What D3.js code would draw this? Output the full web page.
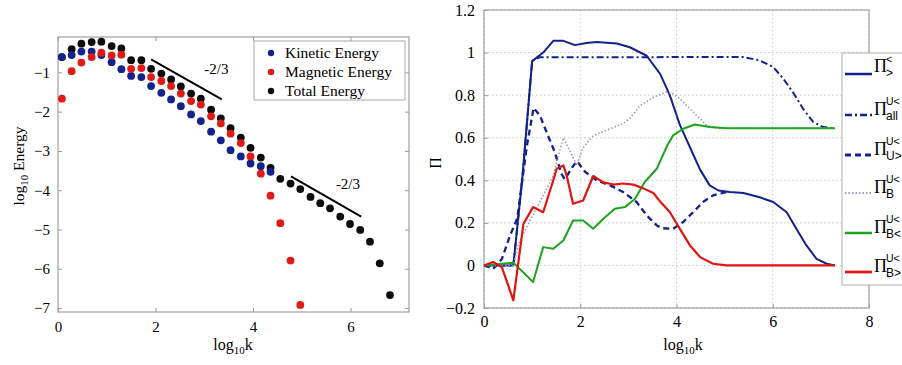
<!DOCTYPE html>
<html>
<head>
<meta charset="utf-8">
<script src="https://cdn.jsdelivr.net/npm/d3@7"></script>
<style>
body { margin: 0; background: #fff; }
svg text { font-family: "Liberation Serif", "Times New Roman", serif; fill: #000; }
.ax path { display: none; }
.ax line { stroke: #999; }
</style>
</head>
<body>
<svg id="chart" width="902" height="365"></svg>
<script>
// ---- left panel : energy spectra vs log10 k ----
const kx = [0.08, 0.28, 0.48, 0.69, 0.89, 1.10, 1.30, 1.50, 1.71, 1.91, 2.12, 2.32, 2.52, 2.73, 2.93, 3.14, 3.34,
	3.54, 3.75, 3.95, 4.16, 4.36, 4.56, 4.77, 4.97, 5.18, 5.38, 5.58, 5.79, 5.99, 6.20, 6.40, 6.60, 6.81]
const totalE = [-0.61, -0.41, -0.27, -0.23, -0.22, -0.33, -0.39, -0.69, -0.69, -0.91, -1.03, -1.18, -1.36, -1.54, -1.67, -1.95, -2.17,
	-2.42, -2.66, -2.92, -3.17, -3.43, -3.71, -3.83, -3.97, -4.17, -4.33, -4.46, -4.67, -4.86, -5.01, -5.31, -5.86, -6.67]
const kineticE = [-0.61, -0.56, -0.47, -0.47, -0.56, -0.74, -0.92, -1.09, -1.12, -1.35, -1.52, -1.69, -1.86, -2.07, -2.24, -2.51, -2.73,
	-2.98, -3.14, -3.32, -3.39, -3.53]
const magneticE = [-1.67, -0.97, -0.75, -0.61, -0.50, -0.57, -0.55, -0.91, -0.89, -1.12, -1.22, -1.35, -1.54, -1.73, -1.82, -2.12, -2.30,
	-2.56, -2.80, -3.14, -3.58, -4.14, -4.84, -5.79, -6.92]
const slopes = [
	{ from: [1.91, -0.67], to: [3.36, -1.69], label: "-2/3", at: [3.0, -1.05] },
	{ from: [4.78, -3.65], to: [6.22, -4.67], label: "-2/3", at: [5.7, -3.97] }
]
const leftXTicks = [0, 2, 4, 6]
const leftYTicks = [-7, -6, -5, -4, -3, -2, -1]
const energySeries = [
	{ name: "Kinetic Energy", color: "#13228c", values: kineticE },
	{ name: "Magnetic Energy", color: "#e11a16", values: magneticE },
	{ name: "Total Energy", color: "#0d0d0d", values: totalE }
]

// ---- right panel : flux ratios ----
const piLt = [[0, 0], [0.61, 0], [0.8, 0.42], [1.0, 0.96], [1.23, 1.0], [1.44, 1.055], [1.65, 1.055], [1.89, 1.035], [2.13, 1.045],
	[2.34, 1.05], [2.76, 1.043], [3.03, 1.025], [3.38, 0.985], [3.66, 0.90], [3.86, 0.80], [4.07, 0.66], [4.35, 0.52], [4.49, 0.45],
	[4.69, 0.376], [4.87, 0.352], [5.11, 0.345], [5.39, 0.34], [5.73, 0.32], [6.01, 0.298], [6.29, 0.25], [6.49, 0.172],
	[6.70, 0.094], [6.91, 0.031], [7.12, 0.008], [7.29, 0]]
const piAll = [[0, 0], [0.61, 0], [0.8, 0.42], [1.0, 0.96], [1.15, 0.978], [5.39, 0.979], [5.73, 0.963], [6.01, 0.932], [6.22, 0.877],
	[6.42, 0.814], [6.63, 0.736], [6.84, 0.674], [7.05, 0.65], [7.29, 0.645]]
const piU = [[0, 0], [0.19, -0.016], [0.37, 0.03], [0.54, 0.14], [0.69, 0.22], [0.89, 0.56], [1.03, 0.74], [1.16, 0.705],
	[1.30, 0.626], [1.47, 0.533], [1.61, 0.43], [1.68, 0.405], [1.83, 0.46], [1.93, 0.49], [2.1, 0.44], [2.34, 0.40],
	[2.62, 0.376], [2.89, 0.345], [3.17, 0.298], [3.38, 0.235], [3.59, 0.188], [3.70, 0.175], [3.93, 0.172], [4.14, 0.204],
	[4.35, 0.251], [4.55, 0.298], [4.76, 0.329], [5.04, 0.345]]
const piB = [[0, 0], [0.61, 0], [0.72, 0.10], [0.85, 0.164], [1.05, 0.25], [1.30, 0.36], [1.44, 0.42], [1.55, 0.52], [1.65, 0.60],
	[1.80, 0.53], [1.93, 0.47], [2.05, 0.55], [2.27, 0.61], [2.62, 0.642], [2.89, 0.666], [3.03, 0.69], [3.24, 0.75],
	[3.52, 0.79], [3.79, 0.814], [3.9, 0.81], [4.07, 0.783], [4.35, 0.72], [4.63, 0.657], [4.84, 0.645], [7.29, 0.645]]
const piBlt = [[0, 0], [0.61, 0.013], [1.02, -0.078], [1.23, 0.086], [1.44, 0.078], [1.65, 0.117], [1.85, 0.211], [2.06, 0.211],
	[2.27, 0.172], [2.48, 0.219], [2.72, 0.266], [2.93, 0.274], [3.14, 0.313], [3.34, 0.392], [3.59, 0.454], [3.80, 0.56],
	[3.93, 0.611], [4.14, 0.642], [4.38, 0.662], [4.69, 0.65], [5.04, 0.645], [7.29, 0.645]]
const piBgt = [[0, 0], [0.19, 0.016], [0.37, -0.008], [0.61, -0.164], [0.82, 0.196], [1.02, 0.274], [1.23, 0.25], [1.44, 0.40],
	[1.51, 0.454], [1.65, 0.47], [1.72, 0.42], [1.85, 0.29], [2.06, 0.305], [2.27, 0.42], [2.48, 0.39], [2.69, 0.38],
	[2.89, 0.385], [3.10, 0.38], [3.31, 0.362], [3.52, 0.34], [3.66, 0.30], [3.86, 0.251], [4.07, 0.172], [4.28, 0.094],
	[4.49, 0.039], [4.76, 0.008], [5.04, 0], [7.29, 0]]
const rightXTicks = [0, 2, 4, 6, 8]
const rightYTicks = [-0.2, 0, 0.2, 0.4, 0.6, 0.8, 1, 1.2]
const piSeries = [
	{ values: piLt, color: "#12228c", dash: null, width: 2, sup: "<", sub: ">" },
	{ values: piAll, color: "#12228c", dash: "7,3,2,3", width: 2, sup: "U<", sub: "all" },
	{ values: piU, color: "#12228c", dash: "6,4", width: 2.3, sup: "U<", sub: "U>" },
	{ values: piB, color: "#9a9ac4", dash: "1.5,2", width: 1.6, sup: "U<", sub: "B" },
	{ values: piBlt, color: "#1ea31e", dash: null, width: 2, sup: "U<", sub: "B<" },
	{ values: piBgt, color: "#e2140f", dash: null, width: 2.2, sup: "U<", sub: "B>" }
]

const SERIF = "'Liberation Serif', 'Times New Roman', serif"
const SANS = "'Liberation Sans', Arial, sans-serif"
const fmt = d3.format("~g")
const svg = d3.select("#chart")

function serifTicks(g, size) {
	g.selectAll(".ax text").style("font-family", SERIF).style("font-size", size + "px").style("fill", "#000")
}

// ================= left panel =================
let L = { x: 58, y: 37, w: 351, h: 275 }
let lx = d3.scaleLinear().domain([0, 7.2]).range([0, L.w])
let ly = d3.scaleLinear().domain([-7.1, -0.1]).range([L.h, 0])
let gl = svg.append("g").attr("transform", `translate(${L.x},${L.y})`)

gl.append("g").attr("class", "ax").attr("transform", `translate(0,${L.h})`)
	.call(d3.axisBottom(lx).tickValues(leftXTicks).tickSizeInner(-4).tickSizeOuter(0).tickPadding(9).tickFormat(fmt))
gl.append("g").attr("class", "ax")
	.call(d3.axisTop(lx).tickValues(leftXTicks).tickSizeInner(-4).tickSizeOuter(0).tickFormat(""))
gl.append("g").attr("class", "ax")
	.call(d3.axisLeft(ly).tickValues(leftYTicks).tickSizeInner(-4).tickSizeOuter(0).tickPadding(8).tickFormat(fmt))
gl.append("g").attr("class", "ax").attr("transform", `translate(${L.w},0)`)
	.call(d3.axisRight(ly).tickValues(leftYTicks).tickSizeInner(-4).tickSizeOuter(0).tickFormat(""))
serifTicks(gl, 15)
gl.append("rect").attr("width", L.w).attr("height", L.h)
	.attr("fill", "none").attr("stroke", "#a0a0a0").attr("stroke-width", 1.2)

// dots: total first, then kinetic, then magnetic on top
;[energySeries[2], energySeries[0], energySeries[1]].forEach(s => {
	gl.append("g").selectAll("circle").data(s.values).enter().append("circle")
		.attr("cx", (d, i) => lx(kx[i]))
		.attr("cy", d => ly(d))
		.attr("r", 3.9)
		.attr("fill", s.color)
})

slopes.forEach(s => {
	gl.append("line")
		.attr("x1", lx(s.from[0])).attr("y1", ly(s.from[1]))
		.attr("x2", lx(s.to[0])).attr("y2", ly(s.to[1]))
		.attr("stroke", "#000").attr("stroke-width", 2)
	gl.append("text").attr("x", lx(s.at[0])).attr("y", ly(s.at[1]))
		.attr("font-size", 15).text(s.label)
})

// legend
let lg = gl.append("g").attr("transform", `translate(${254 - L.x},${41 - L.y})`)
lg.append("rect").attr("width", 151).attr("height", 59)
	.attr("fill", "#fff").attr("stroke", "#aaa")
energySeries.forEach((s, i) => {
	lg.append("circle").attr("cx", 17).attr("cy", 12 + i * 19).attr("r", 3.2).attr("fill", s.color)
	lg.append("text").attr("x", 31).attr("y", 17 + i * 19).attr("font-size", 15.5).text(s.name)
})

// axis titles
let lxl = svg.append("text").attr("x", 233).attr("y", 350).attr("text-anchor", "middle").attr("font-size", 16)
lxl.append("tspan").text("log")
lxl.append("tspan").attr("font-size", 11).attr("dy", 4).text("10")
lxl.append("tspan").attr("dy", -4).text("k")

let lyl = svg.append("text").attr("transform", "translate(24,166) rotate(-90)")
	.attr("text-anchor", "middle").attr("font-size", 15.5)
lyl.append("tspan").text("log")
lyl.append("tspan").attr("font-size", 11).attr("dy", 4).text("10")
lyl.append("tspan").attr("dy", -4).text(" Energy")

// ================= right panel =================
let R = { x: 484, y: 10, w: 385, h: 298 }
let rx = d3.scaleLinear().domain([0, 8]).range([0, R.w])
let ry = d3.scaleLinear().domain([-0.2, 1.2]).range([R.h, 0])
let gr = svg.append("g").attr("transform", `translate(${R.x},${R.y})`)

// dotted grid
gr.append("g").selectAll("line").data(rightXTicks).enter().append("line")
	.attr("x1", d => rx(d)).attr("x2", d => rx(d)).attr("y1", 0).attr("y2", R.h)
	.attr("stroke", "#c8c8c8").attr("stroke-dasharray", "1.5,2.5")
gr.append("g").selectAll("line").data(rightYTicks).enter().append("line")
	.attr("y1", d => ry(d)).attr("y2", d => ry(d)).attr("x1", 0).attr("x2", R.w)
	.attr("stroke", "#c8c8c8").attr("stroke-dasharray", "1.5,2.5")

gr.append("g").attr("class", "ax").attr("transform", `translate(0,${R.h})`)
	.call(d3.axisBottom(rx).tickValues(rightXTicks).tickSizeInner(-4).tickSizeOuter(0).tickPadding(8).tickFormat(fmt))
gr.append("g").attr("class", "ax")
	.call(d3.axisLeft(ry).tickValues(rightYTicks).tickSizeInner(-4).tickSizeOuter(0).tickPadding(9).tickFormat(fmt))
serifTicks(gr, 16)
gr.append("rect").attr("width", R.w).attr("height", R.h)
	.attr("fill", "none").attr("stroke", "#a0a0a0").attr("stroke-width", 1.2)

let line = d3.line().x(d => rx(d[0])).y(d => ry(d[1]))
gr.append("g").selectAll("path").data(piSeries).enter().append("path")
	.attr("d", d => line(d.values))
	.attr("fill", "none")
	.attr("stroke", d => d.color)
	.attr("stroke-width", d => d.width)
	.attr("stroke-dasharray", d => d.dash)
	.attr("stroke-linejoin", "round")

// legend (runs off the right edge)
let rl = svg.append("g").attr("transform", "translate(842,53)")
rl.append("rect").attr("width", 90).attr("height", 232)
	.attr("fill", "#fff").attr("stroke", "#b0b0b0")
let rowY = [21, 62, 102, 140, 180, 219]
piSeries.forEach((s, i) => {
	let yy = rowY[i]
	rl.append("line").attr("x1", 3).attr("x2", 30).attr("y1", yy).attr("y2", yy)
		.attr("stroke", s.color).attr("stroke-width", s.width + 0.5).attr("stroke-dasharray", s.dash)
	rl.append("text").attr("x", 32).attr("y", yy + (i == 0 ? -2 : 0)).attr("font-size", 18).text("Π")
	rl.append("text").attr("x", 44).attr("y", yy - (i == 0 ? 11 : 10))
		.attr("font-size", 10.5).style("font-family", SANS).text(s.sup)
	rl.append("text").attr("x", 44).attr("y", yy + (i == 0 ? 3 : 5))
		.attr("font-size", 12).style("font-family", SANS).text(s.sub)
})

svg.append("text").attr("transform", "translate(441,163) rotate(-90)")
	.attr("text-anchor", "middle").attr("font-size", 16).text("Π")

let rxl = svg.append("text").attr("x", 683).attr("y", 350).attr("text-anchor", "middle").attr("font-size", 16)
rxl.append("tspan").text("log")
rxl.append("tspan").attr("font-size", 11).attr("dy", 4).text("10")
rxl.append("tspan").attr("dy", -4).text("k")
</script>
</body>
</html>
